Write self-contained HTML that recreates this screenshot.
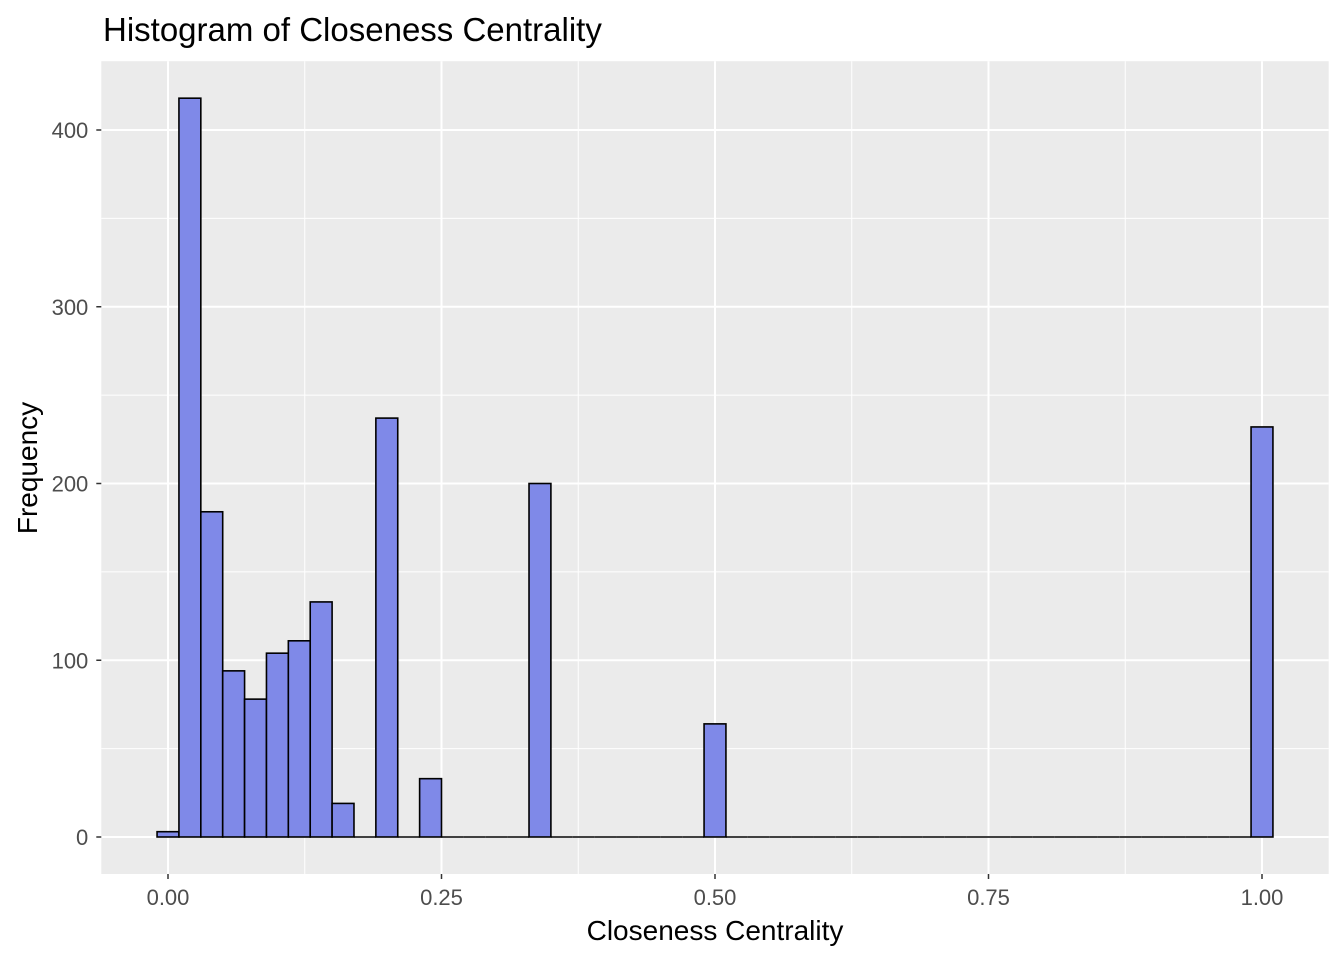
<!DOCTYPE html>
<html><head><meta charset="utf-8"><style>
body{margin:0;background:#fff;}
svg text{font-family:"Liberation Sans",Arial,sans-serif;}
</style></head><body>
<svg id="chart" width="1344" height="960" xmlns="http://www.w3.org/2000/svg">
<text x="103" y="41" font-size="33" fill="#000">Histogram of Closeness Centrality</text>
<rect x="101.3" y="61.2" width="1227.4" height="812.8" fill="#EBEBEB"/>
<g id="grid"></g>
<g id="bars"></g>
<g id="axes"></g>
<text x="715" y="940" font-size="28" text-anchor="middle" fill="#000">Closeness Centrality</text>
<text transform="translate(37,468) rotate(-90)" font-size="28" text-anchor="middle" fill="#000">Frequency</text>
</svg>
<script>
const binCenters = [0.00,0.02,0.04,0.06,0.08,0.10,0.12,0.14,0.16,0.18,0.20,0.22,0.24,0.26,0.28,0.30,0.32,0.34,0.36,0.38,0.40,0.42,0.44,0.46,0.48,0.50,0.52,0.54,0.56,0.58,0.60,0.62,0.64,0.66,0.68,0.70,0.72,0.74,0.76,0.78,0.80,0.82,0.84,0.86,0.88,0.90,0.92,0.94,0.96,0.98,1.00];
const counts = [3,418,184,94,78,104,111,133,19,0,237,0,33,0,0,0,0,200,0,0,0,0,0,0,0,64,0,0,0,0,0,0,0,0,0,0,0,0,0,0,0,0,0,0,0,0,0,0,0,0,232];
const xTicks = [0,0.25,0.5,0.75,1];
const xTickLabels = ["0.00","0.25","0.50","0.75","1.00"];
const yTicks = [0,100,200,300,400];
const yTickLabels = ["0","100","200","300","400"];
const binWidth = 0.02;

const NS="http://www.w3.org/2000/svg";
const x = v => 168 + v*1094;
const y = v => 837 - v*1.7675;
function mk(tag, attrs, parent){const e=document.createElementNS(NS,tag);for(const k in attrs)e.setAttribute(k,attrs[k]);document.getElementById(parent).appendChild(e);return e;}
const L=101.3,R=1328.7,T=61.2,B=874;
for(let i=0;i<xTicks.length-1;i++){const v=(xTicks[i]+xTicks[i+1])/2;
 const g=mk('line',{x1:x(v),x2:x(v),y1:T,y2:B,stroke:'#fff','stroke-width':1},'grid');
 
 }
for(let i=0;i<yTicks.length-1;i++){const v=(yTicks[i]+yTicks[i+1])/2;
 const g=mk('line',{x1:L,x2:R,y1:y(v),y2:y(v),stroke:'#fff','stroke-width':1},'grid');
 
 }
xTicks.forEach((v,i)=>{
 const g=mk('line',{x1:x(v),x2:x(v),y1:T,y2:B,stroke:'#fff','stroke-width':2},'grid');
 
 
 const t=mk('line',{x1:x(v),x2:x(v),y1:B,y2:B+5,stroke:'#333','stroke-width':1.5},'axes');
 
 
 const l=mk('text',{x:x(v),y:B+31,'font-size':22,'text-anchor':'middle',fill:'#4D4D4D'},'axes');
 l.textContent=xTickLabels[i];
 
 
});
yTicks.forEach((v,i)=>{
 const g=mk('line',{x1:L,x2:R,y1:y(v),y2:y(v),stroke:'#fff','stroke-width':2},'grid');
 
 
 const t=mk('line',{x1:L-5,x2:L,y1:y(v),y2:y(v),stroke:'#333','stroke-width':1.5},'axes');
 
 
 const l=mk('text',{x:L-13,y:y(v)+8,'font-size':22,'text-anchor':'end',fill:'#4D4D4D'},'axes');
 l.textContent=yTickLabels[i];
 
 
});
binCenters.forEach((c,i)=>{
 const x0=x(c-binWidth/2),x1=x(c+binWidth/2),y0=y(counts[i]),y1=y(0);
 if(counts[i]===0){
  const r=mk('line',{x1:x0,x2:x1,y1:y1,y2:y1,stroke:'#000','stroke-width':1.6},'bars');
  
  
 } else {
  const r=mk('rect',{x:x0,y:Math.min(y0,y1),width:x1-x0,height:Math.abs(y1-y0),fill:'#7F89E8',stroke:'#000','stroke-width':1.6},'bars');
  
  
 }
});
</script>
</body></html>
